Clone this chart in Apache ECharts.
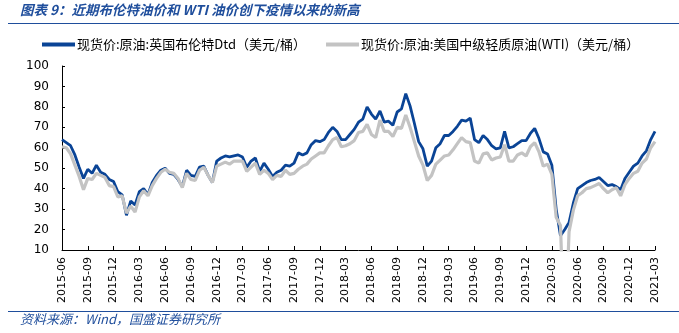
<!DOCTYPE html>
<html>
<head>
<meta charset="utf-8">
<script src="https://cdn.jsdelivr.net/npm/echarts@6/dist/echarts.min.js"></script>
<style>
html,body{margin:0;padding:0;background:#fff;}
#chart{width:679px;height:333px;}
</style>
</head>
<body>
<div id="chart"></div>
<script>
// Semi-monthly sample dates (1st and 16th of each month), 2015-06 to 2021-03
var months = [];
(function(){
  var y = 2015, m = 6;
  while (y < 2021 || (y === 2021 && m <= 3)) {
    var mm = (m < 10 ? '0' : '') + m;
    months.push(y + '-' + mm);
    m++; if (m > 12) { m = 1; y++; }
  }
})();
var categories = [];
months.forEach(function(mo, i){
  categories.push(mo + '-01');
  if (i < months.length - 1) categories.push(mo + '-16');
});

var brentName = '现货价:原油:英国布伦特Dtd（美元/桶）';
var wtiName = '现货价:原油:美国中级轻质原油(WTI)（美元/桶）';

var brent = [
  64.0, 62.5, 61.0, 56.5, 50.5, 45.0, 49.5, 47.5, 51.5, 48.0, 47.0, 44.5, 43.5, 38.5,
  37.0, 27.0, 34.0, 32.0, 38.5, 40.0, 37.0, 43.0, 46.5, 49.0, 50.0, 47.5,
  47.0, 44.5, 41.0, 49.0, 46.5, 46.0, 50.5, 51.0, 46.5, 43.0, 53.5, 55.0,
  56.0, 55.5, 56.0, 56.5, 55.5, 50.5, 53.5, 55.0, 48.5, 52.5, 49.5, 46.0,
  48.0, 49.0, 51.5, 51.0, 52.5, 57.5, 56.5, 57.5, 61.5, 63.5, 63.0, 64.0,
  67.5, 70.0, 68.0, 64.0, 64.0, 66.5, 69.0, 72.5, 74.0, 80.0, 76.5, 74.0,
  78.0, 72.5, 73.0, 71.0, 77.5, 79.0, 86.5, 80.5, 72.0, 63.0, 59.5, 51.0,
  53.5, 60.0, 62.0, 66.0, 66.0, 68.0, 70.5, 73.5, 73.0, 74.5, 64.0, 62.5,
  66.0, 64.0, 61.0, 59.5, 60.0, 68.0, 60.0, 60.5, 62.0, 63.5, 63.5, 67.0,
  69.5, 64.5, 58.0, 57.0, 51.5, 30.0, 17.0, 20.0, 23.5, 33.0, 40.0, 41.5,
  43.0, 44.0, 44.5, 45.5, 43.5, 41.5, 42.0, 41.0, 39.5, 45.0, 48.0, 51.0,
  52.5, 56.0, 58.5, 64.0, 68.0
];

var wti = [
  60.5, 60.0, 57.0, 51.5, 46.0, 39.5, 45.0, 44.5, 47.5, 46.5, 45.5, 41.5, 41.0, 36.0,
  36.5, 28.0, 31.5, 28.5, 36.0, 39.0, 36.5, 41.5, 45.0, 48.0, 49.5, 48.0,
  47.5, 45.0, 40.5, 47.5, 44.5, 44.0, 49.0, 50.5, 46.5, 43.0, 51.0, 52.0,
  53.0, 52.0, 53.5, 53.5, 53.5, 48.5, 50.5, 52.5, 47.0, 49.0, 47.5, 44.5,
  46.5, 46.0, 49.0, 47.0, 47.5, 49.5, 51.0, 52.0, 54.5, 56.0, 57.5, 57.5,
  61.0, 64.0, 65.0, 60.5, 61.0, 62.0, 63.5, 67.5, 68.0, 71.5, 66.5, 65.0,
  73.5, 68.0, 68.0, 65.5, 70.0, 69.5, 76.0, 70.0, 63.0, 56.0, 51.5, 44.0,
  46.5, 52.0, 54.0, 56.0, 56.5, 59.0, 62.0, 65.0, 63.0, 62.5, 53.5, 52.5,
  57.0, 57.5, 54.0, 55.0, 55.5, 61.5, 53.5, 53.5, 56.5, 57.5, 56.0, 60.5,
  62.5, 58.0, 51.0, 52.0, 47.0, 26.0, 22.0, -37.6, 19.0, 29.5, 36.5, 38.0,
  40.0, 40.5, 41.5, 42.5, 40.0, 38.0, 39.5, 40.5, 36.5, 42.0, 45.0, 47.5,
  48.5, 52.5, 54.5, 60.0, 63.0
];

var yMin = 10, yMax = 100, yStep = 10;

var chart = echarts.init(document.getElementById('chart'), null, {renderer: 'canvas'});
var titleColor = '#1f4e9c';
chart.setOption({
  animation: false,
  backgroundColor: '#fff',
  graphic: [
    {type: 'text', left: 20, top: 3, style: {text: '图表 9：近期布伦特油价和 WTI 油价创下疫情以来的新高', fill: titleColor,
      font: 'italic bold 13.5px "Noto Sans CJK SC", sans-serif'}},
    {type: 'line', shape: {x1: 8, y1: 23.5, x2: 679, y2: 23.5}, style: {stroke: '#1f4e9c', lineWidth: 1.2}},
    {type: 'line', shape: {x1: 8, y1: 311.5, x2: 679, y2: 311.5}, style: {stroke: '#1f4e9c', lineWidth: 1.2}},
    {type: 'text', left: 20, top: 313, style: {text: '资料来源：Wind，国盛证券研究所', fill: titleColor,
      font: 'italic 13px "Noto Sans CJK SC", sans-serif'}}
  ],
  legend: {
    top: 33,
    left: 37,
    itemWidth: 33,
    itemHeight: 4,
    itemGap: 20,
    icon: 'rect',
    textStyle: {fontSize: 13, color: '#000', fontFamily: '"Noto Sans CJK SC", sans-serif', padding: [0,0,0,-3]},
    data: [brentName, wtiName]
  },
  grid: {left: 62, right: 24, top: 66, bottom: 83, containLabel: false},
  xAxis: {
    type: 'category',
    data: categories,
    boundaryGap: false,
    axisLine: {lineStyle: {color: '#000', width: 1}},
    axisTick: {show: true, inside: true, length: 4, interval: 5, lineStyle: {color: '#000'}},
    axisLabel: {
      interval: 5, rotate: 90, color: '#000', fontSize: 11, margin: 7,
      fontFamily: '"DejaVu Sans", sans-serif',
      formatter: function(v){ return v.slice(0, 7); }
    },
    splitLine: {show: false}
  },
  yAxis: {
    type: 'value',
    min: yMin, max: yMax, interval: yStep,
    axisLine: {show: true, lineStyle: {color: '#000', width: 1}},
    axisTick: {show: true, inside: true, length: 3, lineStyle: {color: '#000'}},
    axisLabel: {color: '#000', fontSize: 12, margin: 13, fontFamily: '"DejaVu Sans", sans-serif'},
    splitLine: {show: false}
  },
  series: [
    {name: brentName, type: 'line', data: brent, showSymbol: false, symbol: 'none', clip: true,
      lineStyle: {color: '#0a4496', width: 2.8}, itemStyle: {color: '#0a4496'}},
    {name: wtiName, type: 'line', data: wti, showSymbol: false, symbol: 'none', clip: true,
      lineStyle: {color: '#c3c3c3', width: 3.2}, itemStyle: {color: '#c3c3c3'}}
  ]
});
</script>
</body>
</html>
